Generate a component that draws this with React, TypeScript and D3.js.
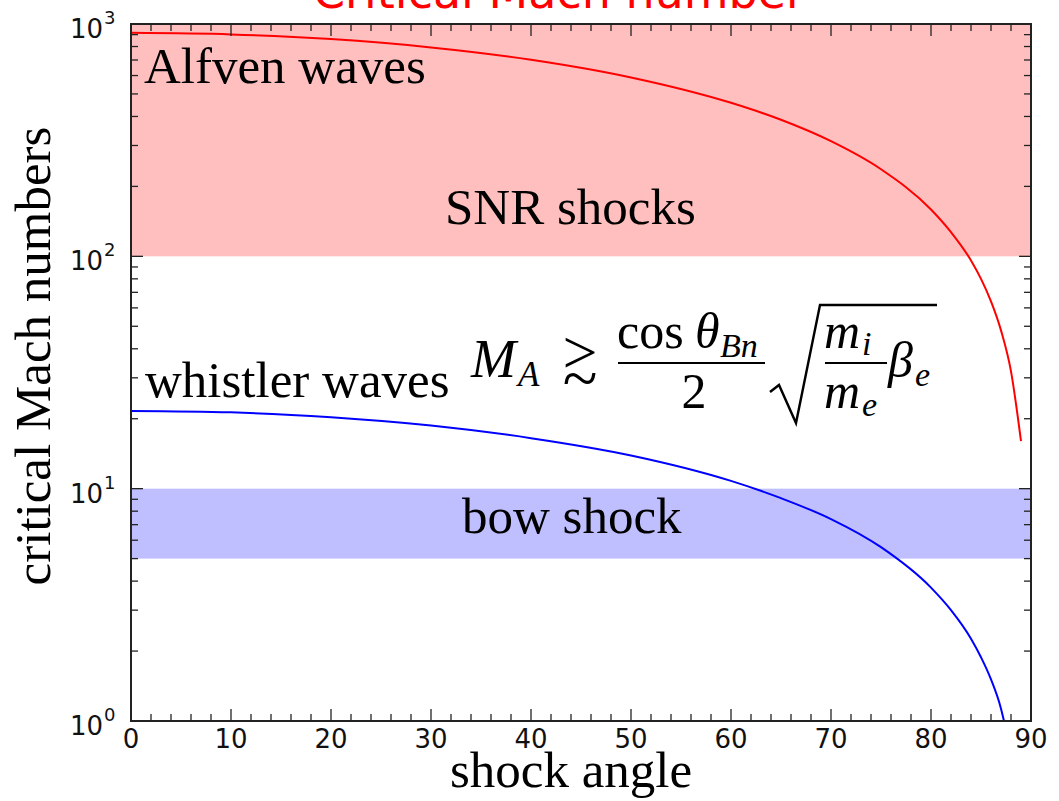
import React from "react";
import * as d3 from "d3";

// Shock angle samples (degrees) and critical Mach numbers for each wave branch
const alfvenAngles = [0, 10, 20, 30, 40, 50, 60, 65, 70, 75, 80, 82, 84, 85, 86, 87, 88, 89];
const alfvenMach = [916, 902, 861, 793, 702, 589, 458, 387, 313, 237, 159, 127, 96, 80, 64, 48, 32, 16];

const whistlerAngles = [0, 10, 20, 30, 40, 50, 60, 65, 70, 75, 80, 82, 84, 85, 86, 87, 87.3];
const whistlerMach = [21.6, 21.3, 20.3, 18.7, 16.5, 13.9, 10.8, 9.1, 7.4, 5.6, 3.75, 3.0, 2.26, 1.88, 1.51, 1.13, 1.0];

// Mach-number ranges of the two shock populations
const snrRange = [100, 1000];
const bowRange = [5, 10];

// Axis ticks
const xMajorTicks = [0, 10, 20, 30, 40, 50, 60, 70, 80, 90];
const yDecades = [0, 1, 2, 3];

const W = 1059;
const H = 801;
const left = 131;
const right = 1031;
const top = 24;
const bottom = 721;

const x = d3.scaleLinear().domain([0, 90]).range([left, right]);
const y = d3.scaleLog().domain([1, 1000]).range([bottom, top]);

const serif = "'Liberation Serif', 'Times New Roman', serif";
const sans = "'DejaVu Sans', sans-serif";

export default function App() {
  const line = d3
    .line<[number, number]>()
    .x((d) => x(d[0]))
    .y((d) => y(d[1]))
    .curve(d3.curveMonotoneX);

  const alfvenPath = line(alfvenAngles.map((a, i) => [a, alfvenMach[i]] as [number, number])) || "";
  const whistlerPath = line(whistlerAngles.map((a, i) => [a, whistlerMach[i]] as [number, number])) || "";

  const xMinor: number[] = d3.range(0, 91, 2).filter((v) => v % 10 !== 0);
  const yMinor: number[] = [];
  for (let e = 0; e < 3; e++) for (let k = 2; k <= 9; k++) yMinor.push(k * Math.pow(10, e));

  const tickColor = "#222";
  const major = 12;
  const minor = 7;

  return (
    <svg
      width={W}
      height={H}
      style={{ position: "absolute", left: 0, top: 0, background: "#fff" }}
    >
      <defs>
        <clipPath id="plot-area">
          <rect x={left} y={top} width={right - left} height={bottom - top} />
        </clipPath>
      </defs>

      {/* title, partly above the page edge */}
      <text
        x={559}
        y={8}
        textAnchor="middle"
        fontFamily={sans}
        fontSize={46}
        fill="#ff0000"
        textLength={492}
        lengthAdjust="spacingAndGlyphs"
      >
        Critical Mach number
      </text>

      {/* shaded shock ranges */}
      <rect
        x={left}
        y={y(snrRange[1])}
        width={right - left}
        height={y(snrRange[0]) - y(snrRange[1])}
        fill="rgb(255,191,191)"
      />
      <rect
        x={left}
        y={y(bowRange[1])}
        width={right - left}
        height={y(bowRange[0]) - y(bowRange[1])}
        fill="rgb(191,191,255)"
      />

      {/* critical Mach curves */}
      <g clipPath="url(#plot-area)">
        <path d={alfvenPath} fill="none" stroke="#ff0000" strokeWidth={2} />
        <path d={whistlerPath} fill="none" stroke="#0000ff" strokeWidth={2} />
      </g>

      {/* ticks on all four sides, pointing inward */}
      <g stroke={tickColor} strokeWidth={1.3}>
        {xMajorTicks.map((v) => (
          <g key={"xM" + v}>
            <line x1={x(v)} x2={x(v)} y1={bottom} y2={bottom - major} />
            <line x1={x(v)} x2={x(v)} y1={top} y2={top + major} />
          </g>
        ))}
        {xMinor.map((v) => (
          <g key={"xm" + v}>
            <line x1={x(v)} x2={x(v)} y1={bottom} y2={bottom - minor} />
            <line x1={x(v)} x2={x(v)} y1={top} y2={top + minor} />
          </g>
        ))}
        {yDecades.map((e) => (
          <g key={"yM" + e}>
            <line x1={left} x2={left + major} y1={y(Math.pow(10, e))} y2={y(Math.pow(10, e))} />
            <line x1={right} x2={right - major} y1={y(Math.pow(10, e))} y2={y(Math.pow(10, e))} />
          </g>
        ))}
        {yMinor.map((v) => (
          <g key={"ym" + v}>
            <line x1={left} x2={left + minor} y1={y(v)} y2={y(v)} />
            <line x1={right} x2={right - minor} y1={y(v)} y2={y(v)} />
          </g>
        ))}
      </g>

      {/* frame */}
      <rect
        x={left}
        y={top}
        width={right - left}
        height={bottom - top}
        fill="none"
        stroke={tickColor}
        strokeWidth={2}
      />

      {/* x tick labels */}
      {xMajorTicks.map((v) => (
        <text
          key={"xl" + v}
          x={x(v)}
          y={748}
          textAnchor="middle"
          fontFamily={sans}
          fontSize={26}
          fill="#111"
        >
          {v}
        </text>
      ))}

      {/* y tick labels as powers of ten */}
      {yDecades.map((e) => {
        const ty = y(Math.pow(10, e));
        return (
          <g key={"yl" + e} fill="#111" fontFamily={sans}>
            <text x={103} y={ty + 14} textAnchor="end" fontSize={26}>
              10
            </text>
            <text x={104} y={ty} textAnchor="start" fontSize={18}>
              {e}
            </text>
          </g>
        );
      })}

      {/* axis titles */}
      <text x={571} y={787} textAnchor="middle" fontFamily={serif} fontSize={51} fill="#000">
        shock angle
      </text>
      <text
        transform={`translate(50, 356) rotate(-90)`}
        textAnchor="middle"
        fontFamily={serif}
        fontSize={51}
        fill="#000"
      >
        critical Mach numbers
      </text>

      {/* region labels */}
      <g fontFamily={serif} fontSize={51} fill="#000">
        <text x={144} y={83}>Alfven waves</text>
        <text x={445} y={224}>SNR shocks</text>
        <text x={145} y={397}>whistler waves</text>
        <text x={462} y={533}>bow shock</text>
      </g>

      {/* M_A ≳ cos θ_Bn / 2 · sqrt(m_i / m_e β_e) */}
      <g fontFamily={serif} fill="#000">
        <text x={471} y={377} fontSize={54} fontStyle="italic">M</text>
        <text x={518} y={386} fontSize={35} fontStyle="italic">A</text>
        {/* "greater than or approximately" built from > over ~ */}
        <text x={580} y={373} fontSize={62} textAnchor="middle">&gt;</text>
        <text x={580} y={400} fontSize={64} textAnchor="middle">~</text>

        <text x={617} y={348} fontSize={50}>cos</text>
        <text x={695} y={348} fontSize={50} fontStyle="italic">θ</text>
        <text x={720} y={357} fontSize={34} fontStyle="italic">Bn</text>
        <line x1={618} x2={765} y1={363} y2={363} stroke="#000" strokeWidth={2.2} />
        <text x={694} y={408} fontSize={50} textAnchor="middle">2</text>

        <path
          d="M 770 392 L 779 385 L 796 423 L 820 305 L 937 305"
          fill="none"
          stroke="#000"
          strokeWidth={2.4}
          strokeLinejoin="miter"
        />
        <text x={824} y={348} fontSize={50} fontStyle="italic">m</text>
        <text x={862} y={355} fontSize={34} fontStyle="italic">i</text>
        <line x1={825} x2={887} y1={363} y2={363} stroke="#000" strokeWidth={2.2} />
        <text x={824} y={408} fontSize={50} fontStyle="italic">m</text>
        <text x={862} y={416} fontSize={34} fontStyle="italic">e</text>
        <text x={888} y={377} fontSize={50} fontStyle="italic">β</text>
        <text x={915} y={386} fontSize={34} fontStyle="italic">e</text>
      </g>
    </svg>
  );
}
